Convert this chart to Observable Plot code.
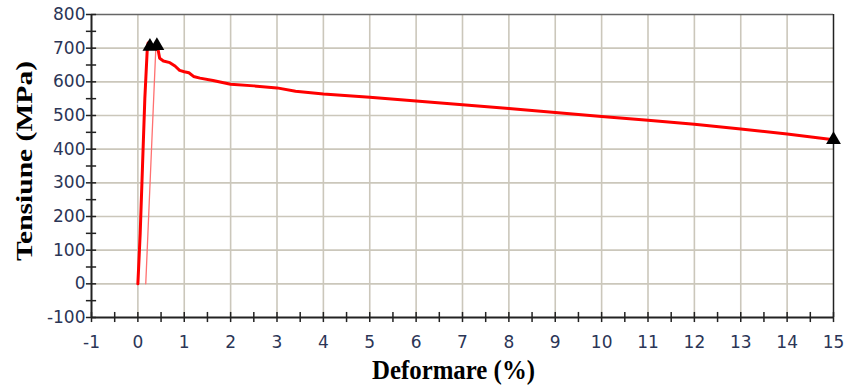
<!DOCTYPE html>
<html><head><meta charset="utf-8">
<script src="https://cdn.jsdelivr.net/npm/d3@7"></script>
<script src="https://cdn.jsdelivr.net/npm/@observablehq/plot@0.6"></script>
<style>body{margin:0;background:#fff}</style>
</head><body><div id="chart"></div>
<script>
// Main stress–strain curve (strain %, stress MPa)
const strain = [0,0.05,0.1,0.15,0.2,0.22,0.25,0.3,0.35,0.4,0.43,0.47,0.55,0.69,0.8,0.9,1.0,1.1,1.2,1.34,1.62,2,2.5,3,3.4,4,5,6,7,8,9,10,11,12,13,14,15];
const stress = [0,150,350,550,690,715,700,705,700,718,700,670,662,657,647,634,630,627,616,611,604,593,588,582,572,564,554,543,532,521,509,497,486,474,460,445,428];
// Thin unloading line
const unloadStrain = [0.17,0.39];
const unloadStress = [0,710];
// Marker triangles
const markStrain = [0.26,0.41,15];
const markStress = [705,707,428];
// Ticks
const xTicks = d3.range(-1,16,1);
const xMinor = d3.range(-0.5,15,1);
const yTicks = d3.range(-100,801,100);
const yMinor = d3.range(-50,800,100);
const yTitle = "Tensiune (MPa)";
const xTitle = "Deformare (%)";

const main = strain.map((x,i)=>({x, y: stress[i]}));
const unload = unloadStrain.map((x,i)=>({x, y: unloadStress[i]}));
const marks = markStrain.map((x,i)=>({x, y: markStress[i]}));

const gridC = "#cbc7bb";
const labC = "#2b3556";
const dx5 = 0.11, dy5 = 15;

const chart = Plot.plot({
  width: 847, height: 385,
  marginLeft: 91, marginRight: 14, marginTop: 14, marginBottom: 68,
  x: {domain: [-1,15], label: null},
  y: {domain: [-100,800], label: null},
  style: {background: "#fff"},
  marks: [
    Plot.ruleX(xTicks.slice(1,-1), {stroke: gridC, strokeWidth: 1.6}),
    Plot.ruleY(yTicks.slice(1,-1), {stroke: gridC, strokeWidth: 1.6}),
    Plot.ruleY([800], {stroke: "#666", strokeWidth: 1.5}),
    Plot.ruleX([15], {stroke: "#222", strokeWidth: 1.5}),
    Plot.ruleX([-1], {stroke: "#222", strokeWidth: 2}),
    Plot.ruleY([-100], {stroke: "#222", strokeWidth: 2}),
    Plot.ruleX(xTicks.concat(xMinor), {y1: -100 - dy5, y2: -100 + dy5, stroke: "#222", strokeWidth: 1.5}),
    Plot.ruleY(yTicks.concat(yMinor), {x1: -1 - dx5, x2: -1 + dx5, stroke: "#222", strokeWidth: 1.5}),
    Plot.axisX(xTicks, {tickSize: 0, tickPadding: 18, fontSize: 17, fill: labC, fontFamily: "DejaVu Sans", tickFormat: d => String(d), label: null}),
    Plot.axisY(yTicks, {tickSize: 0, tickPadding: 6, fontSize: 17, fill: labC, fontFamily: "DejaVu Sans", tickFormat: d => String(d), label: null}),
    Plot.line(unload, {x: "x", y: "y", stroke: "#ff7070", strokeWidth: 1.3}),
    Plot.line(main, {x: "x", y: "y", stroke: "#ff0000", strokeWidth: 3, strokeLinejoin: "round"}),
    Plot.dot(marks, {x: "x", y: "y", symbol: "triangle", fill: "#000", r: 5.5}),
    Plot.text([yTitle], {frameAnchor: "left", textAnchor: "middle", dx: -67, dy: -5, rotate: -90, fontSize: 24, fontWeight: "bold", fontFamily: "Liberation Serif", fill: "#000"}),
    Plot.text([xTitle], {frameAnchor: "bottom", textAnchor: "middle", lineAnchor: "middle", dx: -9, dy: 53, fontSize: 28, fontWeight: "bold", fontFamily: "Liberation Serif", fill: "#000"})
  ]
});
// stretch the axis titles to the reference's proportions
chart.querySelectorAll("text").forEach(t => {
  if (t.textContent === yTitle) {
    t.setAttribute("textLength", 200);
    t.setAttribute("lengthAdjust", "spacingAndGlyphs");
  } else if (t.textContent === xTitle) {
    t.setAttribute("textLength", 163);
    t.setAttribute("lengthAdjust", "spacingAndGlyphs");
  }
});
document.getElementById("chart").append(chart);
</script>
</body></html>
